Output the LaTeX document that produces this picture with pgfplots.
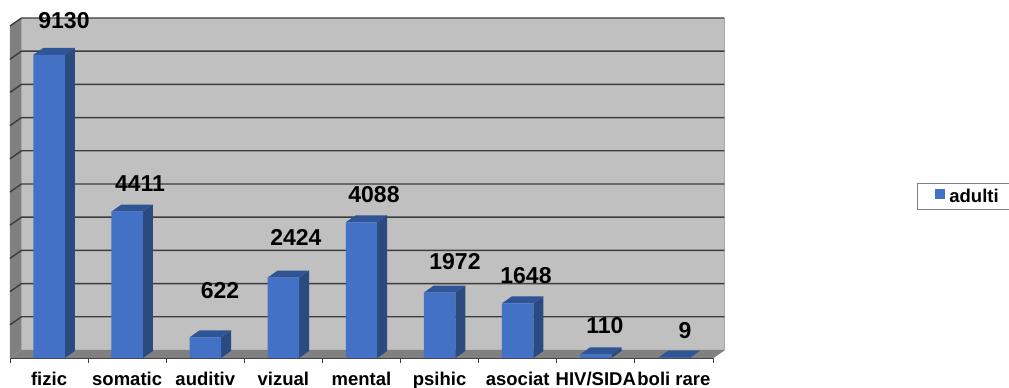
\documentclass[border=0pt]{standalone}
\usepackage{fontspec}
\setmainfont{Liberation Sans}
\usepackage{pgfplots}
\pgfplotsset{compat=1.18}
\definecolor{front}{HTML}{4271C6}
\definecolor{sidef}{HTML}{2A4A80}
\definecolor{topf}{HTML}{2F5597}
\definecolor{wall}{HTML}{C0C0C0}
\definecolor{dwall}{HTML}{808080}
\definecolor{gridc}{HTML}{3C3C3C}
\begin{document}
\begin{tikzpicture}[x=1pt,y=1pt]
\path[use as bounding box] (0,0) rectangle (1009,388);
\begin{axis}[
  at={(10pt,30pt)}, anchor=south west,
  width=703pt, height=340pt, scale only axis,
  xmin=0, xmax=9, ymin=0, ymax=10241,
  clip=false,
  hide y axis,
  axis x line*=bottom,
  x axis line style={color=gridc,line width=1pt,-},
  xtick={0.5,1.5,2.5,3.5,4.5,5.5,6.5,7.5,8.5},
  xticklabels={fizic,somatic,auditiv,vizual,mental,psihic,asociat,HIV/SIDA,boli rare},
  minor xtick={0,1,2,3,4,5,6,7,8,9},
  major tick length=0pt,
  minor tick length=4.5pt,
  tick align=outside,
  every minor tick/.style={color=gridc,line width=0.8pt},
  xticklabel style={font=\fontsize{18.5}{20}\selectfont\bfseries,text=black,anchor=base,yshift=-27pt},
  unbounded coords=jump,
  legend style={at={(axis cs:11.61,5271)},anchor=north west,draw=dwall,line width=1pt,
    font=\fontsize{18.5}{20}\selectfont\bfseries,inner xsep=18pt,inner ysep=5.5pt,
    nodes={inner sep=0pt},
    /tikz/every odd column/.append style={column sep=4pt}},
  legend cell align=left,
]
% walls
\addplot[forget plot,fill=wall,draw=none] coordinates {(0.147,241)(9.147,241)(9.147,10241)(0.147,10241)};
\addplot[forget plot,fill=dwall,draw=none] coordinates {(0,0)(0.147,241)(0.147,10241)(0,10000)};
\addplot[forget plot,fill=dwall,draw=none] coordinates {(0,0)(9,0)(9.147,241)(0.147,241)};
\addplot[forget plot,draw=gray!70,line width=1.5pt] coordinates {(9.147,241)(9.147,10241)};
\addplot[forget plot,draw=dwall,line width=0.7pt] coordinates {(9,0)(9.147,241)};
% grid on back wall and left wall
\addplot[forget plot,draw=gridc,line width=1.4pt] coordinates {
 (0,1000)(0.147,1241)(9.147,1241)(nan,nan)
 (0,2000)(0.147,2241)(9.147,2241)(nan,nan)
 (0,3000)(0.147,3241)(9.147,3241)(nan,nan)
 (0,4000)(0.147,4241)(9.147,4241)(nan,nan)
 (0,5000)(0.147,5241)(9.147,5241)(nan,nan)
 (0,6000)(0.147,6241)(9.147,6241)(nan,nan)
 (0,7000)(0.147,7241)(9.147,7241)(nan,nan)
 (0,8000)(0.147,8241)(9.147,8241)(nan,nan)
 (0,9000)(0.147,9241)(9.147,9241)(nan,nan)
 (0,10000)(0.147,10241)(9.147,10241)
};
% side faces
\addplot[forget plot,fill=sidef,draw=none] coordinates {
 (0.7015,0)(0.8295,211)(0.8295,9341)(0.7015,9130)(nan,nan)
 (1.7015,0)(1.8295,211)(1.8295,4622)(1.7015,4411)(nan,nan)
 (2.7015,0)(2.8295,211)(2.8295,833)(2.7015,622)(nan,nan)
 (3.7015,0)(3.8295,211)(3.8295,2635)(3.7015,2424)(nan,nan)
 (4.7015,0)(4.8295,211)(4.8295,4299)(4.7015,4088)(nan,nan)
 (5.7015,0)(5.8295,211)(5.8295,2183)(5.7015,1972)(nan,nan)
 (6.7015,0)(6.8295,211)(6.8295,1859)(6.7015,1648)(nan,nan)
 (7.7015,0)(7.8295,211)(7.8295,321)(7.7015,110)(nan,nan)
 (8.7015,0)(8.8295,211)(8.8295,220)(8.7015,9)
};
% top faces
\addplot[forget plot,fill=topf,draw=none] coordinates {
 (0.2985,9130)(0.4265,9341)(0.8295,9341)(0.7015,9130)(nan,nan)
 (1.2985,4411)(1.4265,4622)(1.8295,4622)(1.7015,4411)(nan,nan)
 (2.2985,622)(2.4265,833)(2.8295,833)(2.7015,622)(nan,nan)
 (3.2985,2424)(3.4265,2635)(3.8295,2635)(3.7015,2424)(nan,nan)
 (4.2985,4088)(4.4265,4299)(4.8295,4299)(4.7015,4088)(nan,nan)
 (5.2985,1972)(5.4265,2183)(5.8295,2183)(5.7015,1972)(nan,nan)
 (6.2985,1648)(6.4265,1859)(6.8295,1859)(6.7015,1648)(nan,nan)
 (7.2985,110)(7.4265,321)(7.8295,321)(7.7015,110)(nan,nan)
 (8.2985,9)(8.4265,220)(8.8295,220)(8.7015,9)
};
% front faces
\addplot[ybar,bar width=0.403,bar shift=0pt,fill=front,draw=none,
  legend image code/.code={\fill[front] (0pt,-3pt) rectangle (10pt,7pt);}] coordinates {
 (0.5,9130)(1.5,4411)(2.5,622)(3.5,2424)(4.5,4088)(5.5,1972)(6.5,1648)(7.5,110)(8.5,9)
};
\addlegendentry{adulti}
% data labels
\addplot[forget plot,only marks,mark=none,point meta=explicit,
  nodes near coords,
  nodes near coords style={anchor=center,text=black,font=\fontsize{23}{25}\selectfont\bfseries,
     /pgf/number format/.cd,fixed,precision=0,1000 sep={},assume math mode=true},
] table[meta=v] {
x y v
0.691 10151 9130
1.664 5241 4411
2.689 2018 622
3.661 3645 2424
4.66 4910 4088
5.697 2892 1972
6.606 2470 1648
7.617 964 110
8.642 813 9
};
\end{axis}
\end{tikzpicture}
\end{document}
